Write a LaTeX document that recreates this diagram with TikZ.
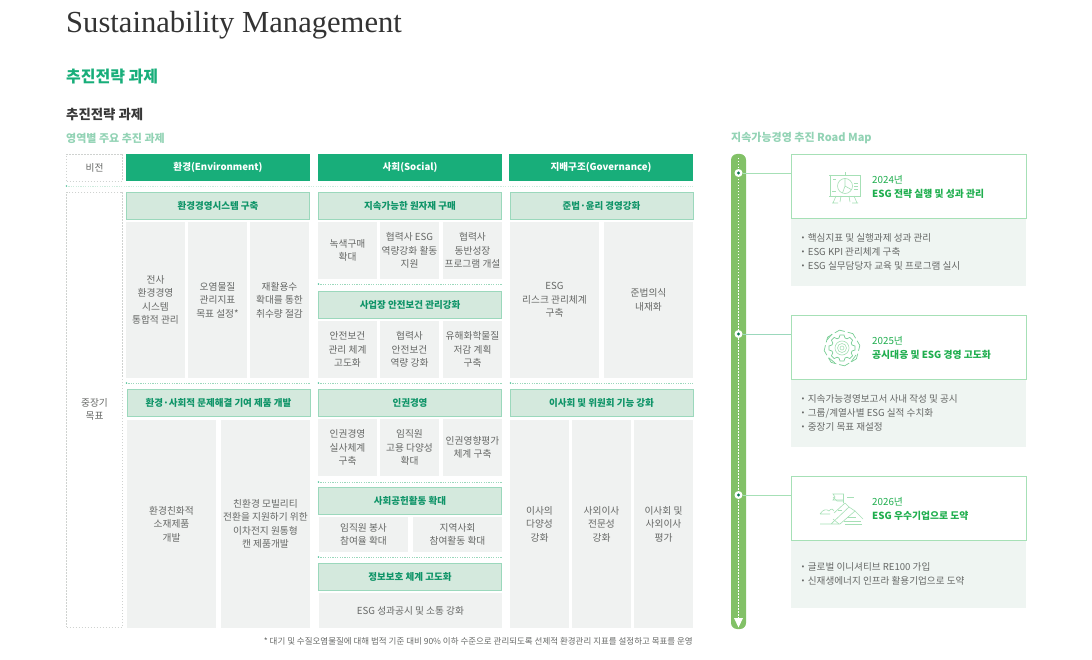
\documentclass[tikz,border=0pt]{standalone}
\usepackage{fontspec}
\setmainfont{Noto Sans CJK KR}
\newfontfamily\titlefont{Liberation Serif}
\usetikzlibrary{arrows.meta,positioning,calc}
\definecolor{Green}{HTML}{18AE7A}
\definecolor{DarkGreen}{HTML}{0F9468}
\definecolor{SoftGreen}{HTML}{93D3B5}
\definecolor{PaleGreen}{HTML}{D4E9DD}
\definecolor{LineGreen}{HTML}{9BD8BC}
\definecolor{BarGreen}{HTML}{82C167}
\definecolor{YearGreen}{HTML}{1FAE4E}
\definecolor{BoxGreen}{HTML}{A6E0B6}
\definecolor{PaleCell}{HTML}{F0F2F1}
\definecolor{PalePanel}{HTML}{EFF5F2}
\definecolor{TextGray}{HTML}{666866}
\definecolor{DashGray}{HTML}{CFD2D0}
\tikzset{
  vision/.style={draw=DashGray,dashed,dash pattern=on 1.5pt off 1.5pt,line width=.7pt,inner sep=0pt,outer sep=0pt,anchor=north west,align=center,text=TextGray,font=\fontsize{9.7}{13.5}\selectfont},
  pillar/.style={fill=Green,text=white,inner sep=0pt,outer sep=0pt,anchor=north west,minimum width=184pt,minimum height=27pt,align=center,font=\fontsize{9.6}{13}\selectfont\bfseries},
  task/.style={draw=LineGreen,fill=PaleGreen,line width=.9pt,text=DarkGreen,inner sep=0pt,outer sep=0pt,anchor=north west,minimum width=183pt,minimum height=27pt,align=center,font=\fontsize{9.5}{13}\selectfont\bfseries},
  cell/.style={fill=PaleCell,text=TextGray,inner sep=0pt,outer sep=0pt,anchor=north west,align=center,font=\fontsize{9.7}{13.5}\selectfont},
  yearbox/.style={draw=BoxGreen,fill=white,line width=.9pt,inner sep=0pt,outer sep=0pt,anchor=north west,minimum width=235.5pt,minimum height=64.5pt},
  yeartext/.style={anchor=west,inner sep=0pt,align=left,text=YearGreen,font=\fontsize{9.8}{14}\selectfont},
  panel/.style={fill=PalePanel,inner sep=0pt,outer sep=0pt,anchor=north west,minimum width=235pt},
  items/.style={anchor=west,inner sep=0pt,align=left,text=TextGray,font=\fontsize{9.6}{13.7}\selectfont},
  sep/.style={draw=LineGreen,dashed,dash pattern=on 1.2pt off 1.2pt,line width=.6pt},
  tie/.style={draw=BoxGreen,line width=.9pt},
  icon/.style={draw=BoxGreen,line width=.6pt},
  gearline/.style={draw=YearGreen!60,line width=.7pt},
  stop/.style={circle,fill=white,minimum size=8pt,inner sep=0pt,outer sep=0pt},
  sub/.style={anchor=west,inner sep=0pt},
}
\begin{document}
\begin{tikzpicture}[x=1pt,y=-1pt]
  \useasboundingbox (0,0) rectangle (1092,660);
  % headings
  \node[sub,text=black!80,font=\titlefont\fontsize{30.6}{33}\selectfont] (title) at (66,25) {Sustainability Management};
  \node[sub,text=Green,font=\fontsize{16}{18}\selectfont\bfseries] (head) at (66,77) {추진전략 과제};
  \node[sub,text=black!78,font=\fontsize{13.4}{16}\selectfont\bfseries] (subhead) at (66,114) {추진전략 과제};
  \node[sub,text=SoftGreen,font=\fontsize{11}{14}\selectfont\bfseries] (areas) at (66,138) {영역별 주요 추진 과제};
  \node[sub,text=SoftGreen,font=\fontsize{11}{14}\selectfont\bfseries] (roadtitle) at (731,138) {지속가능경영 추진 Road Map};

  % left labels and pillars
  \node[vision,minimum width=56pt,minimum height=27pt] (vis) at (66.5,154) {비전};
  \node[vision,minimum width=56pt,minimum height=435pt] (goal) at (66.5,192) {중장기\\목표};
  \node[pillar] (env) at (126,154) {환경(Environment)};
  \node[pillar] (soc) at (318,154) {사회(Social)};
  \node[pillar] (gov) at (509,154) {지배구조(Governance)};

  % separators
  \draw[sep,draw=LineGreen!50] (66,186) -- (693,186);
  \foreach \xa/\xb/\ya in {126/310/383,318/502/383,510/693/383,318/502/284,318/502/482,318/502/557}{
    \draw[sep] (\xa,\ya) -- (\xb,\ya);
    \fill[Green!70] (\xa+.5,\ya) circle (.9pt);
  }
  \fill[Green!70] (66.5,186) circle (.9pt);

  % environment
  \node[task] (e1) at (126.5,192) {환경경영시스템 구축};
  \node[cell,minimum width=59pt,minimum height=156pt] (e11) at (126,222) {전사\\환경경영\\시스템\\통합적 관리};
  \node[cell,minimum width=59pt,minimum height=156pt,right=3pt of e11] (e12) {오염물질\\관리지표\\목표 설정*};
  \node[cell,minimum width=59pt,minimum height=156pt,right=3pt of e12] (e13) {재활용수\\확대를 통한\\취수량 절감};
  \node[task] (e2) at (127,389.5) {환경·사회적 문제해결 기여 제품 개발};
  \node[cell,minimum width=89pt,minimum height=208pt] (e21) at (127,420) {환경친화적\\소재제품\\개발};
  \node[cell,minimum width=89pt,minimum height=208pt,right=5pt of e21] (e22) {친환경 모빌리티\\전환을 지원하기 위한\\이차전지 원통형\\캔 제품개발};

  % social
  \node[task] (s1) at (318.5,192) {지속가능한 원자재 구매};
  \node[cell,minimum width=59pt,minimum height=57pt] (s11) at (318,222) {녹색구매\\확대};
  \node[cell,minimum width=59pt,minimum height=57pt,right=3pt of s11] (s12) {협력사 ESG\\역량강화 활동\\지원};
  \node[cell,minimum width=59pt,minimum height=57pt,right=4pt of s12] (s13) {협력사\\동반성장\\프로그램 개설};
  \node[task] (s2) at (318.5,291) {사업장 안전보건 관리강화};
  \node[cell,minimum width=59pt,minimum height=57pt] (s21) at (318,321) {안전보건\\관리 체계\\고도화};
  \node[cell,minimum width=59pt,minimum height=57pt,right=3pt of s21] (s22) {협력사\\안전보건\\역량 강화};
  \node[cell,minimum width=59pt,minimum height=57pt,right=4pt of s22] (s23) {유해화학물질\\저감 계획\\구축};
  \node[task] (s3) at (318.5,389) {인권경영};
  \node[cell,minimum width=59pt,minimum height=57pt] (s31) at (318,419) {인권경영\\실사체계\\구축};
  \node[cell,minimum width=59pt,minimum height=57pt,right=3pt of s31] (s32) {임직원\\고용 다양성\\확대};
  \node[cell,minimum width=59pt,minimum height=57pt,right=4pt of s32] (s33) {인권영향평가\\체계 구축};
  \node[task] (s4) at (318.5,487.5) {사회공헌활동 확대};
  \node[cell,minimum width=89pt,minimum height=35pt] (s41) at (319,517) {임직원 봉사\\참여율 확대};
  \node[cell,minimum width=89pt,minimum height=35pt,right=5pt of s41] (s42) {지역사회\\참여활동 확대};
  \node[task] (s5) at (318.5,563) {정보보호 체계 고도화};
  \node[cell,minimum width=183pt,minimum height=35pt] (s51) at (319,593) {ESG 성과공시 및 소통 강화};

  % governance
  \node[task] (g1) at (510,192) {준법·윤리 경영강화};
  \node[cell,minimum width=89pt,minimum height=156pt] (g11) at (510,222) {ESG\\리스크 관리체계\\구축};
  \node[cell,minimum width=89pt,minimum height=156pt,right=5pt of g11] (g12) {준법의식\\내재화};
  \node[task] (g2) at (510,389.5) {이사회 및 위원회 기능 강화};
  \node[cell,minimum width=59pt,minimum height=208pt] (g21) at (510,420) {이사의\\다양성\\강화};
  \node[cell,minimum width=59pt,minimum height=208pt,right=3pt of g21] (g22) {사외이사\\전문성\\강화};
  \node[cell,minimum width=59pt,minimum height=208pt,right=3pt of g22] (g23) {이사회 및\\사외이사\\평가};

  \node[anchor=east,inner sep=0pt,text=TextGray,font=\fontsize{8.5}{11}\selectfont] (note) at (693,641) {* 대기 및 수질오염물질에 대해 법적 기준 대비 90\% 이하 수준으로 관리되도록 선제적 환경관리 지표를 설정하고 목표를 운영};

  % road map
  \fill[BarGreen,rounded corners=6pt] (731,154) rectangle (746,629);
  \coordinate (bartop) at (738.5,158);
  \coordinate (barend) at (738.5,618);
  \draw[white,dashed,dash pattern=on 1.5pt off 1.5pt,line width=.5pt] (bartop) -- (barend);
  \fill[white] (734,618) -- (743,618) -- (738.5,627.5) -- cycle;

  \node[panel,minimum height=67pt] (p1) at (791,219) {};
  \node[panel,minimum height=68pt] (p2) at (791,379) {};
  \node[panel,minimum height=67pt] (p3) at (791,541) {};
  \node[yearbox] (y1) at (791,154) {};
  \node[yearbox] (y2) at (791,315) {};
  \node[yearbox] (y3) at (791,476) {};
  \node[stop] (d1) at (738.5,173) {};
  \node[stop] (d2) at (738.5,334) {};
  \node[stop] (d3) at (738.5,495) {};
  \foreach \i in {1,2,3}{\fill[DarkGreen!80!black] (d\i) circle (1.7pt);}
  \draw[tie] (d1) -- (d1 -| y1.west);
  \draw[tie,draw=LineGreen] (d2) -- (d2 -| y2.west);
  \draw[tie] (d3) -- (d3 -| y3.west);

  \node[yeartext] (t1) at (872,186.5) {2024년\\{\bfseries ESG 전략 실행 및 성과 관리}};
  \node[yeartext] (t2) at (872,347.5) {2025년\\{\bfseries 공시대응 및 ESG 경영 고도화}};
  \node[yeartext] (t3) at (872,508.5) {2026년\\{\bfseries ESG 우수기업으로 도약}};
  \node[items] (l1) at (800,252) {{\bfseries·}\hspace{1.8pt}핵심지표 및 실행과제 성과 관리\\{\bfseries·}\hspace{1.8pt}ESG KPI 관리체계 구축\\{\bfseries·}\hspace{1.8pt}ESG 실무담당자 교육 및 프로그램 실시};
  \node[items] (l2) at (800,413) {{\bfseries·}\hspace{1.8pt}지속가능경영보고서 사내 작성 및 공시\\{\bfseries·}\hspace{1.8pt}그룹/계열사별 ESG 실적 수치화\\{\bfseries·}\hspace{1.8pt}중장기 목표 재설정};
  \node[items] (l3) at (800,574) {{\bfseries·}\hspace{1.8pt}글로벌 이니셔티브 RE100 가입\\{\bfseries·}\hspace{1.8pt}신재생에너지 인프라 활용기업으로 도약};

  % icons
  \begin{scope}[shift={(845,187)}]
    \draw[icon] (-16,-12) -- (16,-12) (-15,-12) -- (-15,9) -- (15,9) -- (15,-12) (-16,9) -- (16,9) (0,-12) -- (0,-15);
    \draw[icon] (0,-1) circle (7.5);
    \draw[icon] (0,-1) -- (0,-8.5) (0,-1) -- (6.5,2.7) (0,-1) -- (-2.5,6);
    \draw[icon] (-12,-8) -- (-9,-8) (9,-4) -- (13,-4) (9,-1) -- (13,-1) (9,2) -- (13,2) (-13,4) -- (-9,4);
    \draw[icon] (-9,9) -- (-12,16) (9,9) -- (12,16) (-4,9) -- (-5,15) (4,9) -- (5,15) (-13,16) -- (-7,16) (7,16) -- (13,16);
  \end{scope}
  \begin{scope}[shift={(842,348)}]
    \foreach \r in {2,4.5,7}{\draw[icon] (0,0) circle (\r);}
    \foreach \a in {0,45,...,315}{
      \draw[gearline,rotate=\a] (10,-3) -- (13,-2) -- (13,2) -- (10,3);
      \draw[gearline,rotate=\a] (10,3) arc (16.7:28.3:10.4);
      \draw[gearline,rotate=\a+8] (16,-5) -- (18,0) -- (16,5);
    }
    \draw[gearline] (-15,-8) -- (-10,-14) (14,7) -- (9,14) (-13,10) -- (-7,15);
  \end{scope}
  \begin{scope}[shift={(842,510)}]
    \draw[icon] (-22,14) -- (-2,14) (-2,14) -- (13,1) -- (7,-3) -- (-11,14);
    \draw[icon] (13,1) -- (21,9) (7,-3) -- (3,-7) (3,-7) -- (-8,3) (-3,14) -- (-9,9);
    \draw[icon] (1.5,-7) -- (1.5,-16) -- (-9,-16) -- (-7,-13) -- (-9,-10) -- (1.5,-10);
    \draw[icon] (-9,-13) -- (-5,-9) -- (1.5,-9);
    \draw[icon] (-22,4) .. controls (-19,-1) and (-15,-1) .. (-13,1) .. controls (-11,-2) and (-8,-1) .. (-8,1) (-22,4) -- (-12,4);
    \draw[icon] (-4,0) -- (0,0) (5,-13) -- (12,-13) (5,7) -- (14,7) (2,11) -- (19,11) (3,14) -- (20,14);
  \end{scope}
\end{tikzpicture}
\end{document}
